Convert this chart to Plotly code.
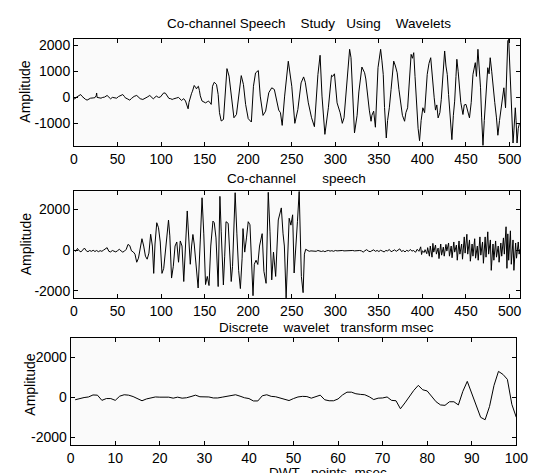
import plotly.graph_objects as go

NB = "\u00a0"

# ---------------- Panel 1: co-channel speech (sample index vs amplitude)
p1_x = [0, 1, 3, 5, 7.6, 9, 11, 13, 15, 17, 19, 22, 24, 25.5, 26, 26.5, 28, 31, 33, 35, 38, 40, 42, 44, 46, 49,
        51, 53, 56, 58, 59, 61, 64, 66, 69, 72, 74, 76, 79, 81, 84, 87, 89, 91, 94.5, 97, 99, 101, 103, 105,
        107, 109, 111, 112.7, 114, 116, 118, 120, 122, 123.5, 125, 126, 128, 129, 131, 132, 133, 135, 136, 138,
        139.5, 140.6, 142, 142.8, 144, 145, 147, 149, 151, 153, 154, 156, 157.5, 159, 161, 163.6, 165.5, 167,
        169, 171.6, 173.5, 175.6, 178, 180.7, 183.6, 186.5, 189, 192, 194.5, 197, 200, 203.6, 206, 208.4,
        211.6, 213.8, 217, 220, 223.6, 227, 230, 232.7, 235, 237, 239, 241.8, 246, 250, 253.5, 257, 260.7,
        263.6, 265.5, 269, 272.7, 276, 278, 280, 282.5, 284.7, 288, 290, 292, 295.6, 297, 299, 302, 305.5, 308,
        310, 312.7, 314.5, 316.4, 318, 320, 322, 325, 327, 330.5, 333.6, 335, 337, 339, 341, 342, 344, 346, 349,
        352, 353.5, 355, 356.5, 358.5, 360, 362, 364, 367, 369, 371, 373, 375, 377, 379.5, 381, 383, 385, 387,
        388.5, 390, 391.5, 393, 395, 396.7, 398.5, 400.5, 402.5, 405.5, 407.5, 409.5, 411.5, 413.5, 415, 416.5,
        418, 420, 421.6, 423.5, 425.5, 427, 428.5, 430, 431, 433.8, 435.5, 437, 438.5, 439.5, 441, 442.6, 444,
        446.5, 448, 450, 452, 454, 456, 458, 460.7, 462, 463.7, 465, 466.7, 468, 469.5, 471, 472, 473.5, 475,
        476.5, 477.8, 479.5, 481, 483, 485, 486.6, 488.5, 490.5, 492, 493.5, 495.4, 496.5, 498, 499, 500, 501,
        502.5, 504, 505, 506.6, 507.5, 508.6, 510, 511.5]
p1_y = [-60, -65, 0, 60, 100, 40, -25, -80, -115, -60, -40, -30, -20, 60, 160, -10, -30, -40, -10, 0, 65, 10, -65,
        -10, -20, -40, 20, 40, 100, 20, -30, -60, -115, -50, 30, 65, -20, -60, -90, -40, 0, 65, -20, -65, 40, -10,
        0, 100, 165, 150, 60, -50, -60, -90, -70, -60, -30, -10, -80, -130, -80, -60, -150, -280, -450, -200,
        -50, 150, 230, 450, 380, 320, 400, 420, 250, 50, -150, -180, -220, -180, -150, -200, -280, 420, 575, 490,
        100, -600, -920, -860, 170, 1100, 810, 40, -795, -670, -25, 830, 490, -280, -830, -960, 420, 935, 1025,
        40, -705, -540, 170, 360, 295, -90, -500, -600, -1090, 40, 1385, 420, -1010, -475, 550, 780, 575, -220,
        -795, -1140, -200, 870, 1615, 40, -1435, -900, -410, 845, 800, 900, -220, -600, -1010, -795, 420, 1320,
        1845, 1520, 300, -1380, -700, 200, 1160, 940, 700, -50, -500, -930, -700, -540, -1160, 1135, 1845, 1400,
        877, -400, -1575, -900, -410, 300, 1390, 1200, 940, 300, -280, -700, -930, -600, -410, 600, 1650, 1500,
        1715, 800, -200, -1200, -1680, -900, -410, -600, 877, 1300, 1520, 600, -25, -500, -300, -800, -600, -100,
        900, 1780, 1200, 877, 100, -410, -1640, -700, -155, 800, 1460, 1000, 360, -200, -670, -300, -280, -500,
        -800, -200, 877, 1330, 800, 1845, 1300, 360, -800, -1860, -900, -410, 300, 1135, 900, 1520, 1000, 360,
        -200, -800, -1470, -900, -410, -100, 360, -410, 500, 2170, 2230, 1500, 877, -300, -1770, -1300, -410,
        -900, -1770, -1200, -1000]

# ---------------- Panel 2: co-channel speech (second record)
p2_x = [0, 2, 4, 6, 8, 10, 12, 14, 16, 18, 20, 22, 24, 26, 28, 30, 32, 34, 36, 38, 40, 42, 44, 46, 48, 50, 52, 54,
        56, 58, 60, 62, 64, 66, 68, 70, 72, 74, 76, 78, 80, 82, 84, 86, 88, 90, 91.5, 93, 95, 97, 99, 101, 103,
        105, 107, 108.5, 110, 112, 114, 116, 118, 120, 122, 124, 126, 128, 130, 132, 133.5, 135, 136.5, 138, 140,
        142.5, 145, 147, 149, 151, 153, 155, 157, 159.5, 161, 163, 165.5, 167.5, 169, 171.5, 173, 174.5, 177,
        179, 180.5, 182, 185, 187, 189, 191, 193, 194, 196, 198, 200, 202, 203.5, 205.5, 207, 209, 211, 213, 216,
        218, 220.5, 223, 225, 227, 229, 231.5, 234.5, 236, 238, 240, 241.5, 243.5, 245.5, 247, 249, 251, 252.7,
        254.5, 256.5, 258.5, 260, 261, 263, 264.5,
        266, 268, 270, 272, 274, 276, 278, 280, 282, 284, 286, 288, 290, 292, 294, 296, 298, 300, 302, 304, 306,
        308, 310, 312, 314, 316, 318, 320, 322, 324, 326, 328, 330, 332, 334, 336, 338, 340, 342, 344, 346, 348,
        350, 352, 354, 356, 358, 360, 362, 364, 366, 368, 370, 372, 374, 376, 378, 380, 382, 384, 386, 388, 390,
        392, 394, 396, 398, 399, 400, 402, 403, 405, 406, 408, 409, 411, 412, 413, 415, 416, 418, 419, 421, 422,
        424, 425, 427, 428, 430, 431, 433, 434, 436, 437, 439, 440, 442, 443, 445, 446, 448, 449, 451, 452, 454,
        455, 457, 458, 460, 461, 463, 464, 466, 467, 469, 470, 472, 473, 475, 476, 478, 479, 481, 482, 484, 485,
        487, 488, 490, 491, 493, 494, 496, 497, 498, 499, 501, 502, 504, 505, 507, 508, 510, 511, 512]
p2_y = [0, -60, 80, -40, -90, 20, 100, -30, -80, -20, -60, -10, -70, -20, -80, -30, -60, 0, 40, 120, -60, -90, -20,
        -60, -90, -30, 40, -40, -100, -50, 40, 280, 220, -40, -90, -200, -600, -400, 150, 560, 200, -300, -450,
        -150, 780, 200, -1150, 300, 1350, 1100, 400, -1150, -900, 100, 900, 1480, 700, -1380, -800, 200, 400,
        -600, 450, 200, -1550, 600, 1930, 400, -700, 200, 770, 300, -800, -1870, 500, 2580, 800, -1700, -1300,
        -1750, 200, 1430, 1350, 600, -1800, 2650, 900, -1720, -300, 1400, 1320, -200, -1550, -800, 2830, 800,
        -1000, -1900, -400, 1060, -100, 600, 1400, 1250, -500, -2250, -700, -500, -710, 200, 810, -1045, -1640,
        2850, 900, -1470, -100, -1300, 1485, 1700, 2080, 800, 200, -2360, 560, 1570, 1230, 1740, -1130, -100,
        1400, 2900, 500, -1300, -2100, -200,
        40, -30, -60, -40, -50, -30, -60, -20, -50, -70, -40, -80, -40, -20, -50, -30, -60, -20, -40, -30, -50,
        -20, -40, -30, -20, -40, -30, -20, -40, -30, -30, -20, -40, -100, -30, 20, -50, -80, -30, 10, -60, -20,
        -70, -10, -50, -90, -20, -40, 30, -80, -40, 10, -60, -10, 60, -70, -20, -90, -10, -60, 30, -50, -20,
        -110, 40, -60, 160, -220, -40, -120, 20, -180, 120, -300, 200, -350, 330, -100, 250, -200, 100, -420, 300,
        -250, 150, -300, 280, -50, 350, -300, 200, -380, 400, -100, 250, -500, 450, -200, 300, -450, 650, -150,
        780, -200, 500, -550, 300, -300, 560, -400, 200, -500, 650, -250, 400, -650, 650, -350, 900, -200, 500,
        -1000, 300, -500, 450, -350, 200, -600, 350, -300, 600, -200, 1150, -900, 800, -500, 950, -700, 500,
        -1000, 350, -400, 400, -200, 50]

# ---------------- Panel 3: discrete wavelet transform (DWT points)
p3_x = list(range(1, 101))
p3_y = [-120, -50, -10, 20, 120, 110, -150, -60, -60, -150, 60, 130, 110, 40, -50, -170, -80, -20, 20, 10,
        20, 10, -40, 10, -40, -20, 40, 110, 30, 20, 20, -30, -30, 10, 50, 100, 130, 60, -20, -60,
        -180, -180, 80, 130, 50, 30, -30, -100, -160, -60, 20, 50, 40, -40, 40, 110, -120, -170, -170, -80,
        120, 260, 260, 180, 150, 130, 30, -110, -40, -30, 20, -150, -170, -570, -280, 60, 350, 600, 380, 320,
        20, -220, -380, -400, -220, -220, -380, 300, 800, 220, -380, -1000, -1120, -450, 600, 1300, 1150, 900,
        -350, -1000]

# ---------------- Axis tick values / labels
p12_xticks = [0, 50, 100, 150, 200, 250, 300, 350, 400, 450, 500]
p3_xticks = [0, 10, 20, 30, 40, 50, 60, 70, 80, 90, 100]
p1_yticks = [-1000, 0, 1000, 2000]
p23_yticks = [-2000, 0, 2000]

titles = ["Co-channel Speech" + NB * 4 + "Study" + NB * 3 + "Using" + NB * 4 + "Wavelets",
          "Co-channel" + NB * 7 + "speech",
          "Discrete" + NB * 4 + "wavelet" + NB * 3 + "transform msec"]
xlabel3 = "DWT" + NB * 3 + "points" + NB * 2 + "msec"
ylabel = "Amplitude"

W, H = 550, 473
FONT = "Liberation Sans, Arial, sans-serif"
FS = 14
FT = 13.5


def fx(p):
    return p / W


def fy(p):
    return 1 - p / H


def lab(v):
    return [str(t) for t in v]


fig = go.Figure()
line = dict(color="black", width=1)
fig.add_trace(go.Scatter(x=p1_x, y=p1_y, mode="lines", line=line, xaxis="x", yaxis="y", hoverinfo="skip"))
fig.add_trace(go.Scatter(x=p2_x, y=p2_y, mode="lines", line=line, xaxis="x2", yaxis="y2", hoverinfo="skip"))
fig.add_trace(go.Scatter(x=p3_x, y=p3_y, mode="lines", line=line, xaxis="x3", yaxis="y3", hoverinfo="skip"))

common = dict(showline=True, linecolor="black", linewidth=1, mirror="ticks", ticks="inside",
              ticklen=4, tickcolor="black", tickwidth=1, showgrid=False, zeroline=False, automargin=False,
              tickfont=dict(family=FONT, size=FS, color="black"), tickmode="array")

p12_dom = [fx(66), fx(512)]
p3_dom = [fx(62.7), fx(508.3)]

fig.update_layout(
    width=W, height=H, margin=dict(l=0, r=0, t=0, b=0),
    paper_bgcolor="white", plot_bgcolor="#fafafa", showlegend=False,
    font=dict(family=FONT, size=FS, color="black"),
    xaxis=dict(domain=p12_dom, anchor="y", range=[0, 512], tickvals=p12_xticks, ticktext=lab(p12_xticks), **common),
    yaxis=dict(domain=[fy(138.3), fy(30.7)], anchor="x", range=[-1896, 2254], tickvals=p1_yticks,
               ticktext=lab(p1_yticks), **common),
    xaxis2=dict(domain=p12_dom, anchor="y2", range=[0, 512], tickvals=p12_xticks, ticktext=lab(p12_xticks), **common),
    yaxis2=dict(domain=[fy(290), fy(183.3)], anchor="x2", range=[-2364, 2900], tickvals=p23_yticks,
                ticktext=lab(p23_yticks), **common),
    xaxis3=dict(domain=p3_dom, anchor="y3", range=[0, 100], tickvals=p3_xticks, ticktext=lab(p3_xticks), **common),
    yaxis3=dict(domain=[fy(437), fy(330)], anchor="x3", range=[-2384, 2970], tickvals=p23_yticks,
                ticktext=lab(p23_yticks), **common),
)

ann = []
for txt, cx, cy in [(titles[0], 301, 15), (titles[1], 288, 170), (titles[2], 318, 319.5), (xlabel3, 320, 464)]:
    ann.append(dict(text=txt, x=fx(cx), y=fy(cy), xref="paper", yref="paper", showarrow=False,
                    xanchor="center", yanchor="middle", font=dict(family=FONT, size=FT, color="black")))
for cx, cy in [(16.7, 84), (18.3, 236), (21.7, 377)]:
    ann.append(dict(text=ylabel, x=fx(cx), y=fy(cy), xref="paper", yref="paper", showarrow=False, textangle=-90,
                    xanchor="center", yanchor="middle", font=dict(family=FONT, size=FS, color="black")))
fig.update_layout(annotations=ann)

fig.write_html("out.html")
